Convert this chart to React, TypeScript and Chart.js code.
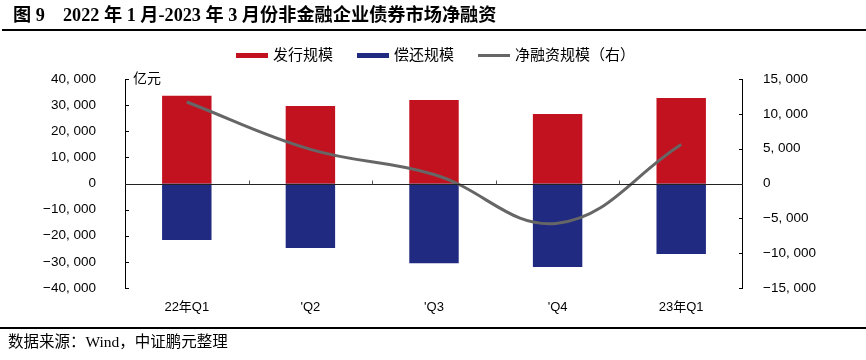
import React, { useEffect, useRef } from "react";
import { Chart, registerables } from "chart.js";

Chart.register(...registerables);

const categories = ["22年Q1", "'Q2", "'Q3", "'Q4", "23年Q1"];
const issuance = [33600, 29700, 32000, 26600, 32700];
const repayment = [-21650, -24700, -30500, -32000, -27000];
const netFinancing = [11700, 4900, 1300, -5700, 5600];
const leftTicks = { min: -40000, max: 40000, step: 10000 };
const rightTicks = { min: -15000, max: 15000, step: 5000 };

const RED = "#C3121F";
const BLUE = "#1F2A80";
const GRAY = "#666666";
const SANS = "'Liberation Sans', Arial, 'Noto Sans CJK SC', sans-serif";
const SERIF = "'Liberation Serif', 'Times New Roman', 'Noto Sans CJK SC', serif";

function fmt(v: number): string {
  const a = Math.abs(v);
  let s: string;
  if (a >= 1000) {
    const th = Math.floor(a / 1000);
    const rest = String(a % 1000).padStart(3, "0");
    s = th + ", " + rest;
  } else s = String(a);
  return (v < 0 ? "\u2212" : "") + s;
}

const axesPlugin = {
  id: "customAxes",
  afterDatasetsDraw(chart: any) {
    const { ctx, chartArea } = chart;
    const { left, right, top, bottom } = chartArea;
    const y = chart.scales.y;
    const y1 = chart.scales.y1;
    const x = chart.scales.x;
    ctx.save();
    ctx.strokeStyle = "#000";
    ctx.lineWidth = 1;
    ctx.beginPath();
    ctx.moveTo(left + 0.5, top);
    ctx.lineTo(left + 0.5, bottom);
    y.ticks.forEach((t: any) => {
      const py = Math.round(y.getPixelForValue(t.value)) + 0.5;
      ctx.moveTo(left, py);
      ctx.lineTo(left + 4, py);
    });
    ctx.moveTo(right - 0.5, top);
    ctx.lineTo(right - 0.5, bottom);
    y1.ticks.forEach((t: any) => {
      const py = Math.round(y1.getPixelForValue(t.value)) + 0.5;
      ctx.moveTo(right, py);
      ctx.lineTo(right - 4, py);
    });
    ctx.stroke();
    const zy = Math.round(y.getPixelForValue(0)) + 0.5;
    ctx.beginPath();
    ctx.strokeStyle = "#222";
    ctx.moveTo(left, zy);
    ctx.lineTo(right, zy);
    ctx.stroke();
    ctx.beginPath();
    ctx.strokeStyle = "#555";
    for (let i = 0; i < categories.length - 1; i++) {
      const px = Math.round((x.getPixelForValue(i) + x.getPixelForValue(i + 1)) / 2) + 0.5;
      ctx.moveTo(px, zy);
      ctx.lineTo(px, zy - 4);
    }
    ctx.stroke();
    ctx.fillStyle = "#000";
    ctx.font = "14px " + SANS;
    ctx.textAlign = "left";
    ctx.textBaseline = "middle";
    ctx.fillText("亿元", left + 8, top);
    ctx.restore();
  },
};

export default function App() {
  const ref = useRef<HTMLCanvasElement | null>(null);

  useEffect(() => {
    if (!ref.current) return;
    const chart = new Chart(ref.current, {
      type: "bar",
      data: {
        labels: categories,
        datasets: [
          {
            type: "line",
            label: "净融资规模（右）",
            data: netFinancing,
            yAxisID: "y1",
            borderColor: GRAY,
            backgroundColor: GRAY,
            borderWidth: 3,
            pointRadius: 0,
            tension: 0.4,
            order: 0,
          } as any,
          {
            label: "发行规模",
            data: issuance,
            backgroundColor: RED,
            yAxisID: "y",
            stack: "s",
            barPercentage: 0.4,
            categoryPercentage: 1,
            order: 1,
          },
          {
            label: "偿还规模",
            data: repayment,
            backgroundColor: BLUE,
            yAxisID: "y",
            stack: "s",
            barPercentage: 0.4,
            categoryPercentage: 1,
            order: 1,
          },
        ],
      },
      options: {
        animation: false,
        responsive: false,
        maintainAspectRatio: false,
        layout: { padding: { top: 79, bottom: 0, left: 0, right: 0 } },
        plugins: { legend: { display: false }, tooltip: { enabled: false } },
        scales: {
          x: {
            stacked: true,
            grid: { display: false },
            border: { display: false },
            ticks: { color: "#000", font: { size: 13, family: SANS }, padding: 4, maxRotation: 0 },
            afterFit: (s: any) => {
              s.height = 72;
            },
          },
          y: {
            position: "left",
            stacked: true,
            min: leftTicks.min,
            max: leftTicks.max,
            grid: { display: false },
            border: { display: false },
            ticks: {
              stepSize: leftTicks.step,
              color: "#000",
              font: { size: 13.5, family: SANS },
              padding: 21,
              callback: (v: any) => fmt(Number(v)),
            },
            afterFit: (s: any) => {
              s.width = 125;
            },
          },
          y1: {
            position: "right",
            min: rightTicks.min,
            max: rightTicks.max,
            grid: { display: false },
            border: { display: false },
            ticks: {
              stepSize: rightTicks.step,
              color: "#000",
              font: { size: 13.5, family: SANS },
              padding: 12,
              callback: (v: any) => fmt(Number(v)),
            },
            afterFit: (s: any) => {
              s.width = 123;
            },
          },
        },
      } as any,
      plugins: [axesPlugin],
    });
    return () => chart.destroy();
  }, []);

  const legendItem = (color: string, text: string, h: number) => (
    <div style={{ display: "flex", alignItems: "center", marginRight: 24 }}>
      <div style={{ width: 32, height: h, background: color, marginRight: 5 }} />
      <span>{text}</span>
    </div>
  );

  return (
    <div style={{ position: "fixed", left: 0, top: 0, width: 866, height: 360, background: "#fff", overflow: "hidden" }}>
      <canvas ref={ref} width={866} height={360} style={{ position: "absolute", left: 0, top: 0, width: 866, height: 360 }} />
      <div
        style={{
          position: "absolute",
          left: 13,
          top: 5,
          fontFamily: SERIF,
          fontWeight: "bold",
          fontSize: 18.2,
          lineHeight: "20px",
          whiteSpace: "pre",
          color: "#000",
        }}
      >
        {"图 9    2022 年 1 月-2023 年 3 月份非金融企业债券市场净融资"}
      </div>
      <div style={{ position: "absolute", left: 2, right: 0, top: 29, height: 2, background: "#000" }} />
      <div
        style={{
          position: "absolute",
          left: 236,
          top: 46,
          display: "flex",
          fontFamily: SANS,
          fontSize: 15,
          lineHeight: "18px",
          color: "#000",
        }}
      >
        {legendItem(RED, "发行规模", 5)}
        {legendItem(BLUE, "偿还规模", 5)}
        {legendItem(GRAY, "净融资规模（右）", 3)}
      </div>
      <div style={{ position: "absolute", left: 0, right: 0, top: 327, height: 1.5, background: "#000" }} />
      <div
        style={{
          position: "absolute",
          left: 8,
          top: 333,
          fontFamily: SERIF,
          fontSize: 15.5,
          lineHeight: "18px",
          color: "#000",
        }}
      >
        数据来源：Wind，中证鹏元整理
      </div>
    </div>
  );
}
